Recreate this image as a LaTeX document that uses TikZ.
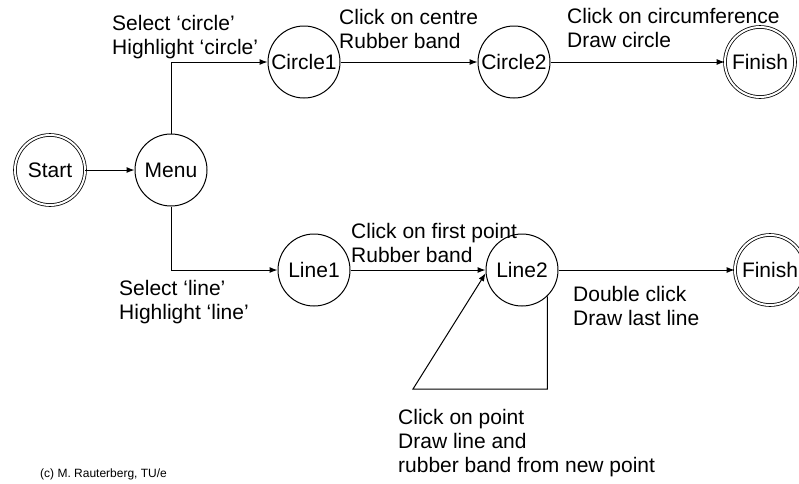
\documentclass[tikz,border=0pt]{standalone}
\usepackage{fontspec}
\setmainfont{Liberation Sans}
\usetikzlibrary{positioning,arrows.meta}
\newcommand{\notefont}{\fontsize{21}{24}\selectfont}
\tikzset{
    state/.style={%
        draw, circle, line width=1pt,
        minimum size=#1,
        inner sep=0pt,
        font=\notefont
        },
    state/.default=72pt,
    final/.style={state=70pt, line width=0.8pt, double, double distance=2pt},
    note/.style={anchor=base west, align=left, inner sep=0pt, font=\notefont},
    >={Latex[length=8pt,width=6pt]}
}
\begin{document}
\begin{tikzpicture}[x=1pt, y=-1pt]

\useasboundingbox (0,0) rectangle (799,483);

\node[final] (Start) at (50,170) {Start};

\node[state] (Menu) at (171,170) {Menu};

\node[state] (Circle1) at (304,62) {Circle1};

\node[state] (Circle2) at (514,62) {Circle2};

\node[final] (FinishC) at (760,62) {Finish};

\node[state] (Line1) at (314,270) {Line1};

\node[state] (Line2) at (522,270) {Line2};

\node[final] (FinishL) at (770,270) {Finish};

\coordinate (loop) at (413,389);

% base anchor sits on the last line
\node[note] (selcircle) at (112,54) {Select ‘circle’\\Highlight ‘circle’};
\node[note] (centre) at (339,48) {Click on centre\\Rubber band};
\node[note] (circum) at (567,47) {Click on circumference\\Draw circle};
\node[note] (firstpt) at (351,262) {Click on first point\\Rubber band};
\node[note] (selline) at (119,319) {Select ‘line’\\Highlight ‘line’};
\node[note] (dblclick) at (573,325) {Double click\\Draw last line};
\node[note] (clickpt) at (398,472) {Click on point\\Draw line and\\rubber band from new point};

\node[anchor=base west, inner sep=0pt, font=\fontsize{12}{14}\selectfont] (copyright) at (40,477) {(c) M. Rauterberg, TU/e};

\draw[->, line width=1pt] (Start) -- (Menu);
\draw[->, line width=1pt] (Menu.north) |- (Circle1.west);
\draw[->, line width=1pt] (Menu.south) |- (Line1.west);
\draw[->, line width=1pt] (Circle1) -- (Circle2);
\draw[->, line width=1pt] (Circle2) -- (FinishC);
\draw[->, line width=1pt] (Line1) -- (Line2);
\draw[->, line width=1pt] (Line2) -- (FinishL);
\draw[->, line width=1pt] (Line2.-46) |- (loop) -- (Line2.185);

\end{tikzpicture}
\end{document}
